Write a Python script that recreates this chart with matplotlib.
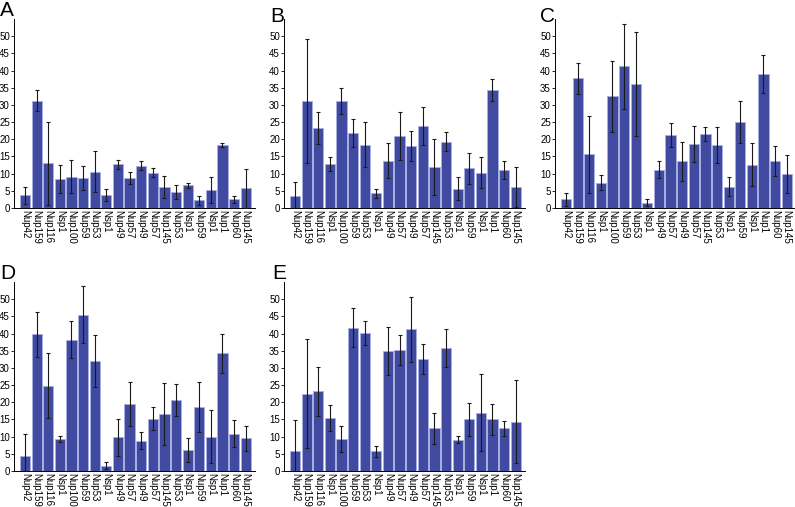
import matplotlib
matplotlib.use("Agg")
import matplotlib.pyplot as plt
import numpy as np

plt.rcParams["font.family"] = ["Liberation Sans", "DejaVu Sans"]

# Nucleoporin labels (same order in every panel)
labels = ["Nup42", "Nup159", "Nup116", "Nsp1", "Nup100", "Nup59", "Nup53",
          "Nsp1", "Nup49", "Nup57", "Nup49", "Nup57", "Nup145", "Nup53",
          "Nsp1", "Nup59", "Nsp1", "Nup1", "Nup60", "Nup145"]

# Panel A
a_vals = [3.7, 31.2, 13.0, 8.4, 9.1, 8.7, 10.6, 3.7, 12.7, 8.8,
          12.3, 10.3, 6.1, 4.6, 6.6, 2.2, 5.3, 18.3, 2.6, 5.7]
a_err = [2.5, 3.1, 12.0, 4.0, 4.8, 3.5, 5.9, 1.8, 1.3, 1.8,
         1.3, 1.3, 3.3, 2.0, 0.7, 1.3, 3.8, 0.5, 1.0, 5.7]

# Panel B
b_vals = [3.6, 31.2, 23.3, 12.8, 31.2, 21.8, 18.4, 4.3, 13.8, 20.9,
          18.1, 23.8, 12.0, 19.3, 5.6, 11.5, 10.3, 34.3, 11.1, 6.2]
b_err = [3.9, 18.0, 4.6, 1.9, 3.7, 4.0, 6.6, 1.25, 5.1, 6.9,
         4.3, 5.5, 8.2, 2.7, 3.4, 4.4, 4.6, 3.2, 2.6, 5.8]

# Panel C
c_vals = [2.6, 37.8, 15.6, 7.3, 32.5, 41.2, 36.1, 1.6, 11.2, 21.2,
          13.6, 18.6, 21.6, 18.4, 6.2, 25.0, 12.6, 39.0, 13.6, 9.9]
c_err = [1.9, 4.5, 11.3, 2.2, 10.3, 12.4, 15.1, 1.0, 2.6, 3.4,
         5.7, 5.3, 2.1, 5.3, 2.7, 6.1, 6.2, 5.4, 4.4, 5.5]

# Panel D
d_vals = [4.4, 39.8, 24.8, 9.3, 38.2, 45.5, 32.0, 1.5, 9.8, 19.5,
          8.8, 15.2, 16.5, 20.6, 6.1, 18.7, 10.0, 34.2, 10.9, 9.5]
d_err = [6.4, 6.6, 9.5, 0.9, 5.4, 8.2, 7.7, 1.0, 5.4, 6.5,
         2.5, 3.4, 9.0, 4.6, 3.5, 7.3, 7.8, 5.6, 3.9, 3.7]

# Panel E
e_vals = [5.8, 22.5, 23.2, 15.5, 9.3, 41.7, 40.2, 5.8, 34.9, 35.3,
          41.2, 32.6, 12.4, 35.8, 9.1, 15.1, 16.9, 15.1, 12.4, 14.4]
e_err = [8.9, 15.9, 7.1, 3.8, 3.9, 5.6, 3.4, 1.6, 7.0, 4.4,
         9.5, 4.4, 4.6, 5.4, 1.05, 4.8, 11.2, 4.5, 2.2, 12.1]

W, H = 795, 507
fig = plt.figure(figsize=(W / 100, H / 100), dpi=100)

panels = [
    ("A", a_vals, a_err, 14, 19, 0, 1),
    ("B", b_vals, b_err, 284, 19, 270, 7),
    ("C", c_vals, c_err, 555, 19, 540, 7),
    ("D", d_vals, d_err, 14, 282, 0, 264),
    ("E", e_vals, e_err, 284, 282, 272, 264),
]

x = np.arange(len(labels))
for letter, vals, err, left, top, lx, ly in panels:
    ax = fig.add_axes([left / W, 1 - (top + 189) / H, 241 / W, 189 / H])
    ax.bar(x, vals, width=0.88, color="#3f4aa0", edgecolor="#a9b0e0",
           linewidth=0.6, zorder=2)
    ax.errorbar(x, vals, yerr=err, fmt="none", ecolor="#1a1a1a",
                elinewidth=0.8, capsize=1.6, capthick=0.8, zorder=3)
    ax.set_xlim(-0.95, 19.8)
    ax.set_ylim(0, 55)
    ax.set_yticks(np.arange(0, 51, 5))
    ax.set_xticks(x)
    ax.set_xticklabels(labels, rotation=-90, fontsize=7, va="top", ha="center")
    ax.tick_params(axis="x", length=0, pad=1.5)
    ax.tick_params(axis="y", labelsize=7, length=2, width=0.6, pad=1)
    for s in ["top", "right"]:
        ax.spines[s].set_visible(False)
    for s in ["left", "bottom"]:
        ax.spines[s].set_linewidth(0.7)
    fig.text(lx / W, 1 - ly / H, letter, fontsize=15, ha="left", va="top")

fig.savefig("out.png", dpi=100)
